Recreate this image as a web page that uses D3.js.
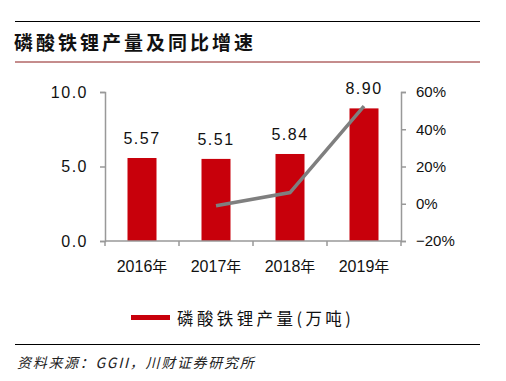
<!DOCTYPE html>
<html><head><meta charset="utf-8">
<script src="https://cdn.jsdelivr.net/npm/d3@7/dist/d3.min.js"></script>
<style>
html,body{margin:0;padding:0;background:#fff;}
svg{display:block;}
</style></head>
<body>
<svg id="c" width="506" height="381"></svg>
<script>
const categories = ["2016年","2017年","2018年","2019年"];
const production = [5.57, 5.51, 5.84, 8.90];
const growth = [null, -1.1, 6.0, 52.4];
const leftTicks = [0, 5, 10];
const rightTicks = [-20, 0, 20, 40, 60];
const title = "磷酸铁锂产量及同比增速";
const legendLabel = "磷酸铁锂产量(万吨)";
const source = "资料来源：GGII，川财证券研究所";

const svg = d3.select("#c");
const num = "'Liberation Sans', Arial, sans-serif";
const cjk = "'Noto Sans CJK SC', sans-serif";

// header lines and title
svg.append("line").attr("x1",15).attr("x2",480).attr("y1",21.5).attr("y2",21.5).attr("stroke","#000").attr("stroke-width",1);
svg.append("text").attr("x",14).attr("y",50).text(title)
  .attr("font-family",cjk).attr("font-weight","bold").attr("font-size",19).attr("letter-spacing",3).attr("fill","#111");
svg.append("line").attr("x1",15).attr("x2",480).attr("y1",62).attr("y2",62).attr("stroke","#8B1A1A").attr("stroke-width",1);

const x = d3.scaleBand().domain(categories).range([105,401]).paddingInner(0).paddingOuter(0);
const yL = d3.scaleLinear().domain([0,10]).range([241,92]);
const yR = d3.scaleLinear().domain([-20,60]).range([241,92]);
const axisColor = "#999";

// bars
const bw = 29;
svg.append("g").selectAll("rect").data(production).join("rect")
  .attr("x",(d,i)=>x(categories[i])+x.bandwidth()/2-bw/2)
  .attr("y",d=>yL(d)).attr("width",bw).attr("height",d=>yL(0)-yL(d))
  .attr("fill","#C8000B");

// value labels
svg.append("g").selectAll("text").data(production).join("text")
  .attr("x",(d,i)=>x(categories[i])+x.bandwidth()/2)
  .attr("y",d=>yL(d)-14).attr("text-anchor","middle")
  .attr("font-family",num).attr("font-size",16).attr("letter-spacing",1.5).attr("fill","#111")
  .text(d=>d3.format(".2f")(d));

// left axis
const gl = svg.append("g").attr("transform","translate(105,0)")
  .call(d3.axisLeft(yL).tickValues(leftTicks).tickFormat(d3.format(".1f")).tickSize(5).tickPadding(8));
gl.select(".domain").attr("stroke",axisColor).attr("stroke-width",1.5);
gl.selectAll(".tick line").attr("stroke",axisColor).attr("stroke-width",1.5);
gl.selectAll("text").attr("font-family",num).attr("font-size",16).attr("letter-spacing",1.5).attr("fill","#111").attr("dx",-4);

// right axis
const gr = svg.append("g").attr("transform","translate(401,0)")
  .call(d3.axisRight(yR).tickValues(rightTicks).tickFormat(d=>(d<0?"\u2212"+Math.abs(d):d)+"%").tickSize(5).tickPadding(10));
gr.select(".domain").attr("stroke",axisColor).attr("stroke-width",1.5);
gr.selectAll(".tick line").attr("stroke",axisColor).attr("stroke-width",1.5);
gr.selectAll("text").attr("font-family",num).attr("font-size",15).attr("fill","#111");

// bottom axis
const gb = svg.append("g").attr("transform","translate(0,241)");
gb.append("line").attr("x1",105).attr("x2",401).attr("y1",0).attr("y2",0).attr("stroke",axisColor).attr("stroke-width",1.5);
const bounds = categories.map(c=>x(c)).concat([x.range()[1]]);
gb.selectAll("line.t").data(bounds).join("line").attr("class","t")
  .attr("x1",d=>d).attr("x2",d=>d).attr("y1",0).attr("y2",5).attr("stroke",axisColor).attr("stroke-width",1.5);
gb.selectAll("text").data(categories).join("text")
  .attr("x",d=>x(d)+x.bandwidth()/2).attr("y",31).attr("text-anchor","middle")
  .attr("font-family",num).attr("font-size",16).attr("fill","#111")
  .each(function(d){
    const t = d3.select(this);
    t.append("tspan").text(d.slice(0,4));
    t.append("tspan").attr("font-family",cjk).attr("font-size",15).text(d.slice(4));
  });

// growth line
const line = d3.line().defined(d=>d!=null)
  .x((d,i)=>x(categories[i])+x.bandwidth()/2).y(d=>yR(d));
svg.append("path").datum(growth).attr("d",line).attr("fill","none")
  .attr("stroke","#7F7F7F").attr("stroke-width",3.5);

// legend
svg.append("rect").attr("x",131).attr("y",315).attr("width",39).attr("height",5).attr("fill","#C8000B");
svg.append("text").attr("x",177).attr("y",325).text(legendLabel)
  .attr("font-family",cjk).attr("font-size",16.5).attr("letter-spacing",3.4).attr("fill","#111");

// footer
svg.append("line").attr("x1",15).attr("x2",480).attr("y1",344.5).attr("y2",344.5).attr("stroke","#000").attr("stroke-width",1);
svg.append("text").attr("x",17).attr("y",368).text(source)
  .attr("font-family",cjk).attr("font-style","italic").attr("font-size",14).attr("letter-spacing",1.7).attr("fill","#222");
</script>
</body></html>
